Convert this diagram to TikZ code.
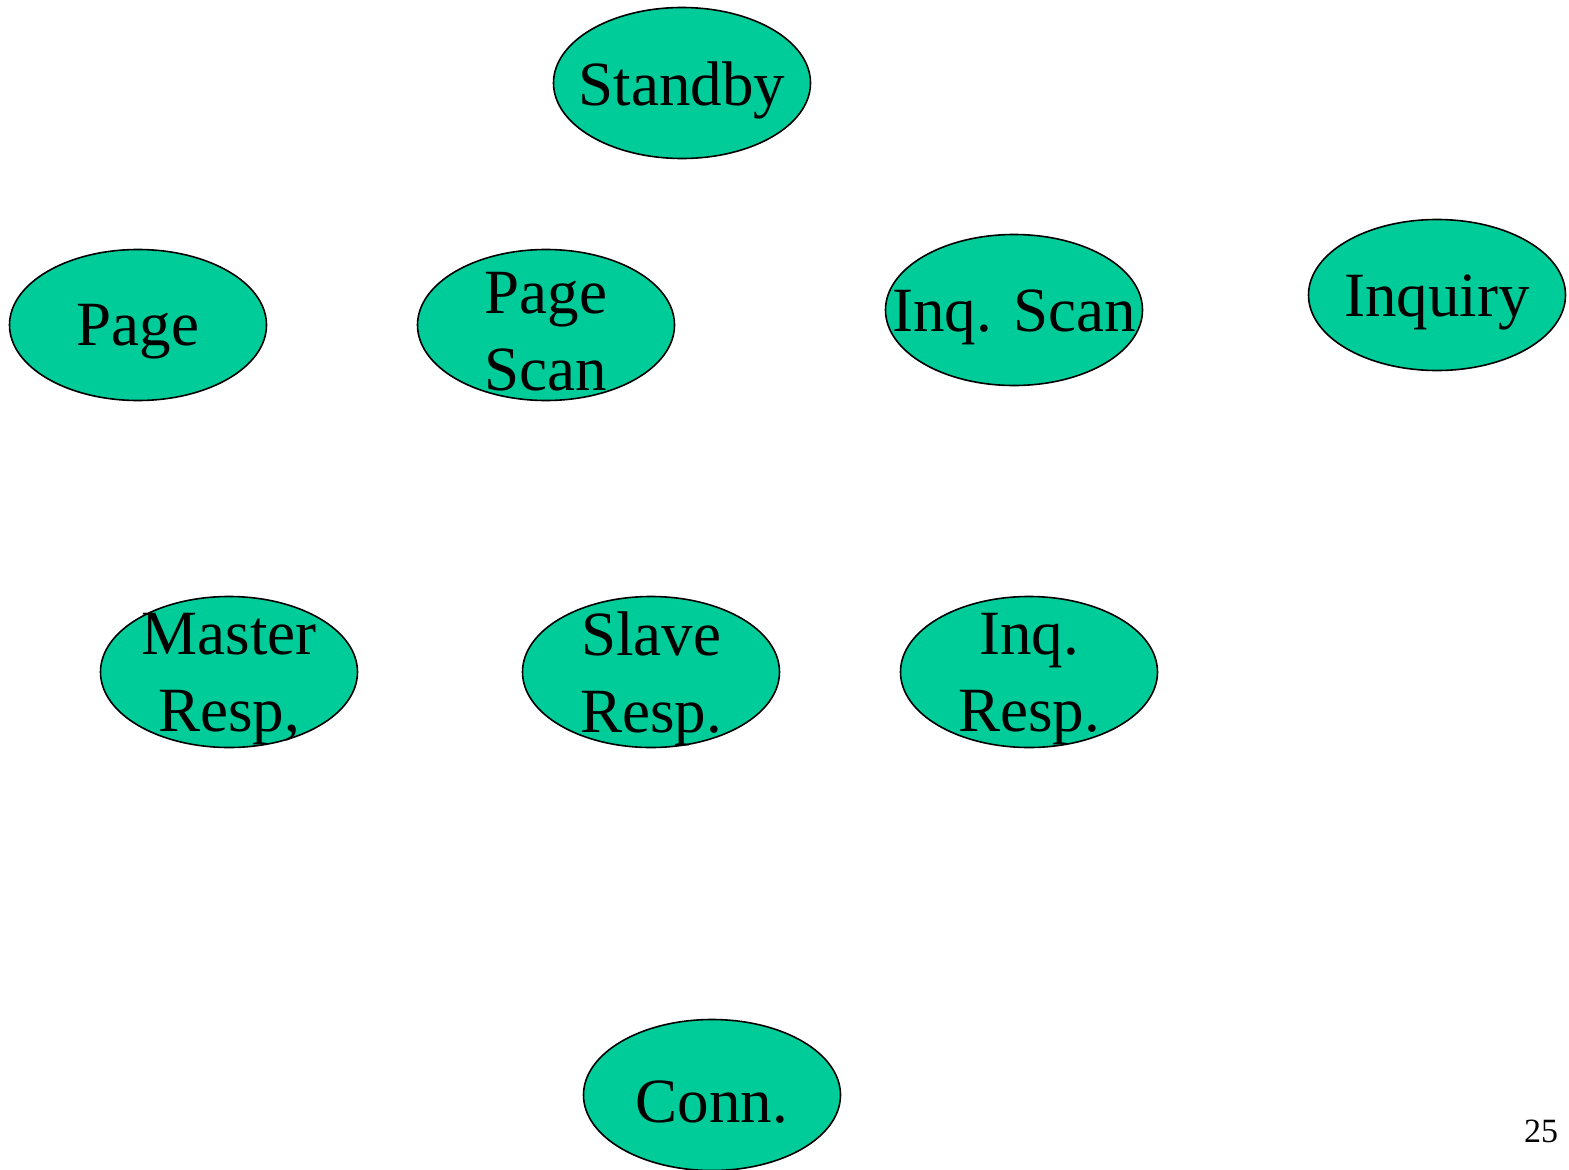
\documentclass[tikz,border=0pt]{standalone}
\usepackage{fontspec}
\setmainfont{Liberation Serif}
\usetikzlibrary{shapes.geometric}
\definecolor{stategreen}{HTML}{00CC99}
\begin{document}
\begin{tikzpicture}[x=1pt,y=-1pt,
  statebox/.style={ellipse,draw=black,line width=1.6pt,fill=stategreen,
    minimum width=257pt,minimum height=151pt,inner sep=0pt},
  statetext/.style={font=\fontsize{63}{77}\selectfont,align=center,inner sep=0pt,yshift=-7pt}]
\useasboundingbox (0,0) rectangle (1569,1170);
% state ellipses
\node[statebox] (standby)  at (682,83)   {};
\node[statebox] (page)     at (138,325)  {};
\node[statebox] (pagescan) at (546,325)  {};
\node[statebox] (inqscan)  at (1014,310) {};
\node[statebox] (inquiry)  at (1437,295) {};
\node[statebox] (master)   at (229,672)  {};
\node[statebox] (slave)    at (651,672)  {};
\node[statebox] (inqresp)  at (1029,672) {};
\node[statebox] (conn)     at (712,1095) {};
% state names
\node[statetext] at (standby)  {Standby};
\node[statetext] at (page)     {Page};
\node[statetext] at (pagescan) {Page\\Scan};
\node[statetext] at (inqscan)  {Inq. Scan};
\node[statetext] at (inquiry)  {Inquiry};
\node[statetext] at (master)   {Master\\Resp,};
\node[statetext] at (slave)    {Slave\\Resp.};
\node[statetext] at (inqresp)  {Inq.\\Resp.};
\node[statetext] at (conn)     {Conn.};
% page number
\node[font=\fontsize{34}{40}\selectfont,inner sep=0pt] (pagenum) at (1541,1131) {25};
\end{tikzpicture}
\end{document}
